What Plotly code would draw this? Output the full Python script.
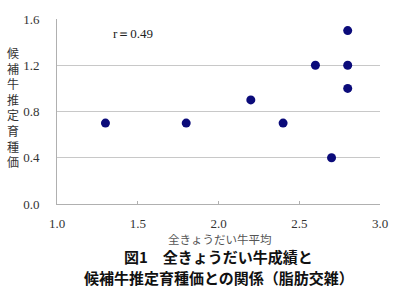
import plotly.graph_objects as go

x_vals = [1.3, 1.8, 2.2, 2.4, 2.6, 2.7, 2.8, 2.8, 2.8]
y_vals = [0.7, 0.7, 0.9, 0.7, 1.2, 0.4, 1.5, 1.2, 1.0]
x_ticks = [1.0, 1.5, 2.0, 2.5, 3.0]
x_ticklabels = ["1.0", "1.5", "2.0", "2.5", "3.0"]
y_ticks = [0.0, 0.4, 0.8, 1.2, 1.6]
y_ticklabels = ["0.0", "0.4", "0.8", "1.2", "1.6"]
y_title = "候補牛推定育種価"
x_title = "全きょうだい牛平均"
title_lines = ["図1　全きょうだい牛成績と", "候補牛推定育種価との関係（脂肪交雑）"]
r_text = "r＝0.49"

serif = "Times New Roman, Liberation Serif, DejaVu Serif, serif"
jp = "Noto Sans CJK JP"

PLOT_TOP, PLOT_H = 12, 192

def py(pix):
    return (PLOT_TOP + PLOT_H - pix) / PLOT_H

fig = go.Figure()
fig.add_trace(go.Scatter(
    x=x_vals, y=y_vals, mode="markers",
    marker=dict(size=9, color="#0b0b7a"),
    showlegend=False, hoverinfo="skip"))

fig.update_layout(
    width=400, height=291,
    margin=dict(l=57, r=13, t=PLOT_TOP, b=291 - PLOT_TOP - PLOT_H),
    paper_bgcolor="white", plot_bgcolor="white",
    font=dict(family=serif),
    xaxis=dict(range=[1.0, 3.0], tickvals=x_ticks, ticktext=x_ticklabels,
               showgrid=False, zeroline=False, showline=True,
               linecolor="#b0b0b0", linewidth=1,
               ticks="inside", ticklen=3, tickcolor="#b0b0b0",
               ticklabelstandoff=7,
               tickfont=dict(family=serif, size=13, color="#333")),
    yaxis=dict(range=[0.0, 1.6], tickvals=y_ticks, ticktext=y_ticklabels,
               showgrid=True, gridcolor="#c8c8c8", gridwidth=1,
               zeroline=False, showline=True,
               linecolor="#b0b0b0", linewidth=1,
               ticks="", ticklabelstandoff=14,
               tickfont=dict(family=serif, size=13, color="#333")),
)

fig.add_annotation(
    text="<br>".join(list(y_title)), xref="paper", yref="paper",
    x=(12 - 57) / 330, y=py(103), xanchor="center", yanchor="middle",
    showarrow=False, align="center",
    font=dict(family=jp, size=12, color="#333"))

fig.add_annotation(
    text=r_text, xref="x", yref="y", x=1.47, y=1.475,
    showarrow=False, font=dict(family=serif, size=13, color="#222"))

fig.add_annotation(
    text=x_title, xref="paper", yref="paper", x=(224 - 57) / 330, y=py(240),
    xanchor="center", yanchor="middle", showarrow=False,
    font=dict(family=jp, size=11.5, color="#555"))

for line, yp in zip(title_lines, [258, 280]):
    fig.add_annotation(
        text="<b>" + line + "</b>", xref="paper", yref="paper",
        x=(222 - 57) / 330, y=py(yp), xanchor="center", yanchor="middle",
        showarrow=False, font=dict(family=jp, size=15, color="#111"))

fig.write_html("out.html")
